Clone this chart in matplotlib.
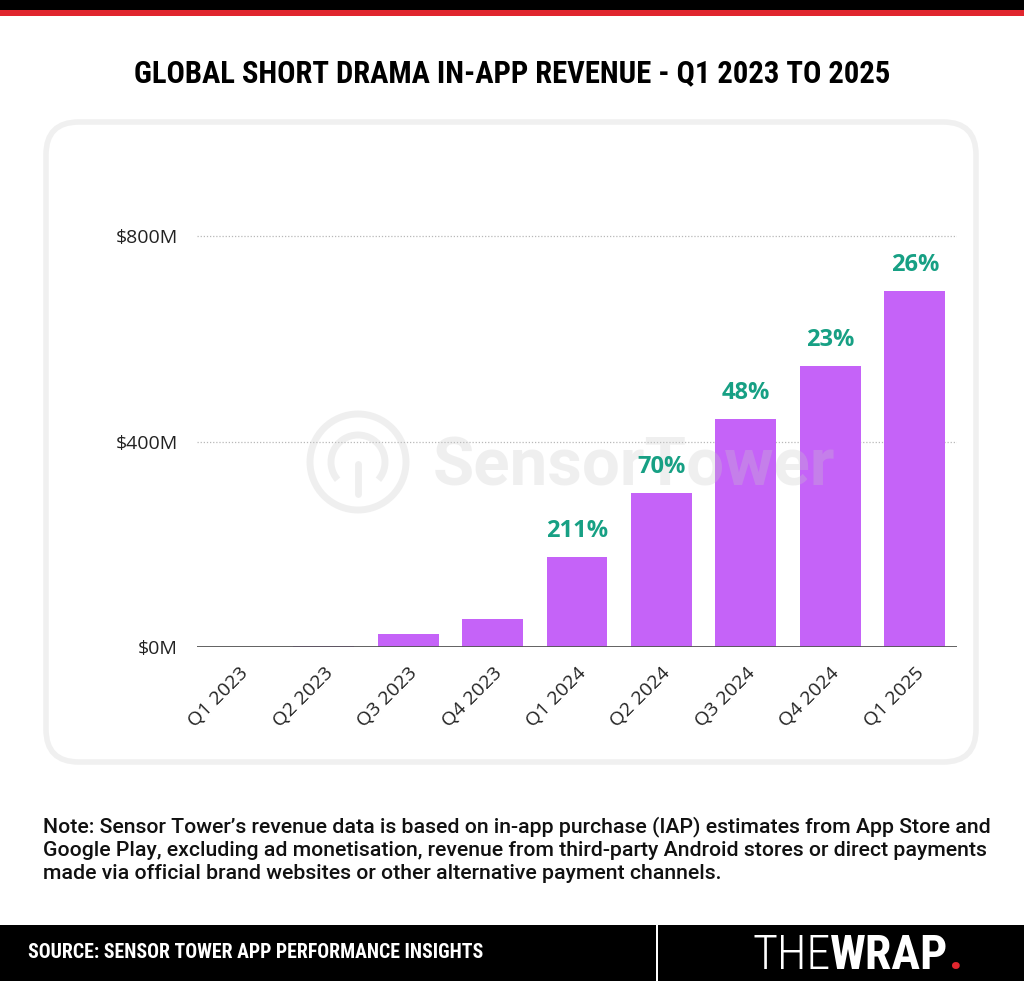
import matplotlib
matplotlib.use("Agg")
import matplotlib.pyplot as plt
from matplotlib.patches import FancyBboxPatch, Rectangle, Ellipse, Arc

quarters = ["Q1 2023", "Q2 2023", "Q3 2023", "Q4 2023", "Q1 2024",
            "Q2 2024", "Q3 2024", "Q4 2024", "Q1 2025"]
revenue_m = [0.5, 2, 27, 55, 176, 300, 444, 548, 694]
growth = ["", "", "", "", "211%", "70%", "48%", "23%", "26%"]
yticks = [0, 400, 800]
ytick_labels = ["$0M", "$400M", "$800M"]
note_lines = [
    "Note: Sensor Tower\u2019s revenue data is based on in-app purchase (IAP) estimates from App Store and",
    "Google Play, excluding ad monetisation, revenue from third-party Android stores or direct payments",
    "made via official brand websites or other alternative payment channels.",
]

W, H = 1024, 981
BAR = "#c563f8"
TEAL = "#17a084"
RED = "#e0262e"
NARROW = ["Roboto Condensed", "Liberation Sans Narrow", "Roboto", "DejaVu Sans"]
SANS = ["Open Sans", "DejaVu Sans"]
ROBOTO = ["Roboto", "DejaVu Sans"]

def fx(px):
    return px / W

def fy(py):
    return 1 - py / H

fig = plt.figure(figsize=(W / 100, H / 100), dpi=100)
fig.patch.set_facecolor("white")
renderer = fig.canvas.get_renderer()

def fit_width(t, target_px):
    w = t.get_window_extent(renderer=renderer).width
    t.set_fontsize(t.get_fontsize() * target_px / w)

# background layer in figure fractions
bg = fig.add_axes([0, 0, 1, 1], zorder=-5)
bg.set_xlim(0, 1)
bg.set_ylim(0, 1)
bg.axis("off")

# top stripes
bg.add_patch(Rectangle((0, fy(10)), 1, 10 / H, facecolor="black", edgecolor="none"))
bg.add_patch(Rectangle((0, fy(16)), 1, 6 / H, facecolor=RED, edgecolor="none"))

# title
title = bg.text(0.5, fy(73), "GLOBAL SHORT DRAMA IN-APP REVENUE - Q1 2023 TO 2025",
                ha="center", va="center", fontsize=30, fontweight="heavy",
                family=NARROW, color="black")
fit_width(title, 757)

# card
bg.add_patch(FancyBboxPatch((fx(46), fy(762)), (980 - 46 - 4) / W, (762 - 122) / H,
                            boxstyle="round,pad=0,rounding_size=0.032",
                            facecolor="white", edgecolor="#f0f0f0", linewidth=4,
                            mutation_aspect=W / H))

# note, one text per line (baselines ~832, 855.5, 879)
note_texts = []
for i, line in enumerate(note_lines):
    note_texts.append(bg.text(fx(43), fy(832 + 23.5 * i), line, ha="left",
                              va="baseline", fontsize=14, fontweight="medium",
                              family=ROBOTO, color="#111111"))
fit_width(note_texts[1], 945)
for t in note_texts:
    t.set_fontsize(note_texts[1].get_fontsize())

# footer
bg.add_patch(Rectangle((0, 0), 1, 56 / H, facecolor="black", edgecolor="none"))
bg.add_patch(Rectangle((fx(656), 0), 2 / W, 56 / H, facecolor="white", edgecolor="none"))
src = bg.text(fx(28), fy(953), "SOURCE: SENSOR TOWER APP PERFORMANCE INSIGHTS", ha="left",
              va="center", fontsize=12.5, fontweight="bold", color="white", family=NARROW)
fit_width(src, 455)

logo_fs = 30
the = bg.text(fx(752), fy(969), "THE", ha="left", va="baseline", fontsize=logo_fs,
              fontweight="light", color="white", family=NARROW)
wrap = bg.annotate("WRAP", xy=(1, 0), xycoords=the, ha="left", va="bottom",
                   fontsize=logo_fs, fontweight="bold", color="white", family=NARROW)
dot = bg.annotate(".", xy=(1, 0), xycoords=wrap, ha="left", va="bottom",
                  fontsize=logo_fs, fontweight="bold", color=RED, family=NARROW)
x_start = the.get_window_extent(renderer=renderer).x0
x_end = dot.get_window_extent(renderer=renderer).x1
scale = 210 / (x_end - x_start)
for t in (the, wrap, dot):
    t.set_fontsize(logo_fs * scale)

# chart axes: zero at y=647, 100M = 51.4 px
y0, pxm = 647.4, 0.5142
ymax = 900
ax_w_px, ax_h_px = 957 - 197, ymax * pxm
ax = fig.add_axes([fx(197), fy(y0), ax_w_px / W, ax_h_px / H])
ax.set_facecolor("none")
ax.set_xlim(-0.5, len(quarters) - 0.5)
ax.set_ylim(0, ymax)

for yv in yticks[1:]:
    ax.axhline(yv, color="#b8b8b8", linestyle=(0, (1, 1.5)), linewidth=0.9, zorder=1)
ax.axhline(0, color="#555555", linewidth=1.3, zorder=3)

x = list(range(len(quarters)))
ax.bar(x, revenue_m, width=0.72, color=BAR, zorder=2)
for xi, v, g in zip(x, revenue_m, growth):
    if g:
        ax.annotate(g, (xi, v), xytext=(0, 10), textcoords="offset points",
                    ha="center", va="bottom", fontsize=17, fontweight="bold",
                    color=TEAL, family=SANS, zorder=6)

# faint watermark drawn over the bars
def ay(py):
    return (y0 - py) / ax_h_px

def axx(px):
    return (px - 197) / ax_w_px

wm = dict(color="#c8c8c8", alpha=0.28, zorder=4)
wmt = ax.text(axx(433), ay(485), "SensorTower", transform=ax.transAxes, ha="left",
              va="baseline", fontsize=44, fontweight="bold", family=ROBOTO, **wm)
fit_width(wmt, 402)
cx, cy = axx(358), ay(462)
ax.add_patch(Ellipse((cx, cy), 96 / ax_w_px, 96 / ax_h_px, transform=ax.transAxes,
                     fill=False, edgecolor=wm["color"], alpha=wm["alpha"], linewidth=5,
                     zorder=4))
ax.add_patch(Arc((cx, cy), 54 / ax_w_px, 54 / ax_h_px, theta1=-55, theta2=235,
                 transform=ax.transAxes, edgecolor=wm["color"], alpha=wm["alpha"],
                 linewidth=5, zorder=4))
ax.plot([cx, cx], [cy - 2 / ax_h_px, cy - 32 / ax_h_px], transform=ax.transAxes,
        color=wm["color"], alpha=wm["alpha"], linewidth=5, zorder=4,
        solid_capstyle="round")

ax.set_yticks(yticks)
ax.set_yticklabels(ytick_labels, fontsize=14, family=SANS, color="#222222")
ax.set_xticks(x)
ax.set_xticklabels(quarters, rotation=45, ha="right", rotation_mode="anchor",
                   fontsize=14, family=SANS, color="#222222")
ax.tick_params(axis="both", length=0)
ax.tick_params(axis="y", pad=14)
ax.tick_params(axis="x", pad=12)
for s in ax.spines.values():
    s.set_visible(False)

fig.savefig("out.png", dpi=100, facecolor="white")
